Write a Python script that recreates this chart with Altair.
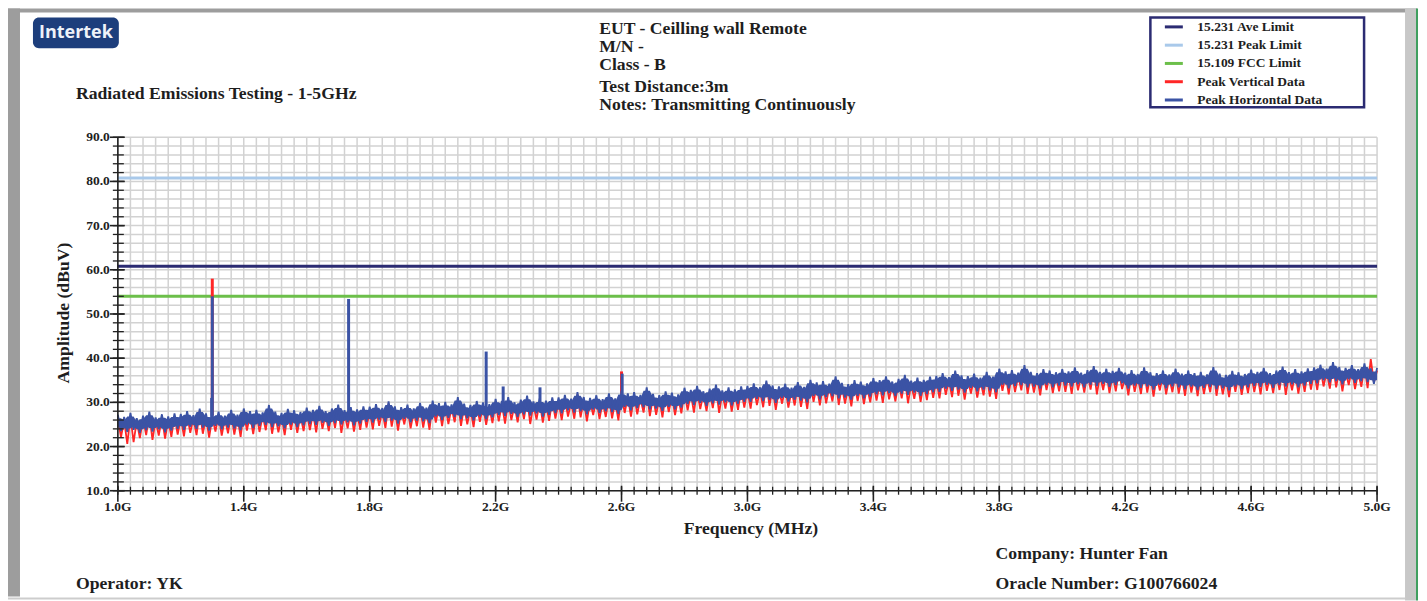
import altair as alt
import pandas as pd

SERIF = "Liberation Serif"
TXT = "#1e1e1e"
AXC = "#222222"
GRID = "#d2d2d2"

# ---- sweep grid (GHz) ----
F_START = 1.0
F_STEP = 0.01
FREQ_GHZ = [round(F_START + F_STEP * i, 2) for i in range(401)]

# ---- Peak Horizontal Data (dBuV), 0.01 GHz steps ----
H_DATA = [
    27.2, 23.5, 26.7, 23.3, 27.6, 23.8, 26.4, 23.1, 27.0, 23.7, 27.9, 23.4, 26.6, 23.9, 27.3, 23.2, 26.8, 23.6, 27.5, 24.0,
    27.4, 23.8, 28.0, 24.5, 27.1, 24.0, 28.6, 24.3, 27.5, 23.6, 27.3, 24.7, 27.9, 23.9, 27.0, 24.3, 28.3, 24.1, 27.2, 23.7,
    28.6, 25.0, 28.0, 24.2, 28.3, 24.7, 27.7, 24.9, 29.4, 24.4, 27.9, 24.6, 27.6, 24.1, 28.5, 25.0, 28.2, 24.4, 27.8, 24.8,
    28.8, 25.1, 28.3, 24.9, 29.2, 25.4, 28.0, 24.7, 28.6, 25.3, 29.5, 25.0, 28.2, 25.5, 28.9, 24.8, 28.4, 25.2, 29.1, 25.6,
    29.0, 25.4, 29.6, 26.1, 28.7, 25.6, 30.2, 25.9, 29.1, 25.2, 28.9, 26.3, 29.5, 25.5, 28.6, 25.9, 29.9, 25.7, 28.8, 25.3,
    30.4, 26.8, 29.8, 26.0, 30.1, 26.5, 29.5, 26.7, 31.2, 26.2, 29.7, 26.4, 29.4, 25.9, 30.3, 26.8, 30.0, 26.2, 29.6, 26.6,
    30.8, 27.1, 30.3, 26.9, 31.2, 27.4, 30.0, 26.7, 30.6, 27.3, 31.5, 27.0, 30.2, 27.5, 30.9, 26.8, 30.4, 27.2, 31.1, 27.6,
    31.1, 27.5, 31.7, 28.2, 30.8, 27.7, 32.3, 28.0, 31.2, 27.3, 31.0, 28.4, 31.6, 27.6, 30.7, 28.0, 32.0, 27.8, 30.9, 27.4,
    32.6, 29.0, 32.0, 28.2, 32.3, 28.7, 31.7, 28.9, 33.4, 28.4, 31.9, 28.6, 31.6, 28.1, 32.5, 29.0, 32.2, 28.4, 31.8, 28.8,
    33.3, 29.6, 32.8, 29.4, 33.7, 29.9, 32.5, 29.2, 33.1, 29.8, 34.0, 29.5, 32.7, 30.0, 33.4, 29.3, 32.9, 29.7, 33.6, 30.1,
    33.7, 30.1, 34.3, 30.8, 33.4, 30.3, 34.9, 30.6, 33.8, 29.9, 33.6, 31.0, 34.2, 30.2, 33.3, 30.6, 34.6, 30.4, 33.5, 30.0,
    35.1, 31.5, 34.5, 30.7, 34.8, 31.2, 34.2, 31.4, 35.9, 30.9, 34.4, 31.1, 34.1, 30.6, 35.0, 31.5, 34.7, 30.9, 34.3, 31.3,
    35.5, 31.8, 35.0, 31.6, 35.9, 32.1, 34.7, 31.4, 35.3, 32.0, 36.2, 31.7, 34.9, 32.2, 35.6, 31.5, 35.1, 31.9, 35.8, 32.3,
    36.0, 32.4, 36.6, 33.1, 35.7, 32.6, 37.2, 32.9, 36.1, 32.2, 35.9, 33.3, 36.5, 32.5, 35.6, 32.9, 36.9, 32.7, 35.8, 32.3,
    37.6, 34.0, 37.0, 33.2, 37.3, 33.7, 36.7, 33.9, 38.4, 33.4, 36.9, 33.6, 36.6, 33.1, 37.5, 34.0, 37.2, 33.4, 36.8, 33.8,
    37.5, 33.8, 37.0, 33.6, 37.9, 34.1, 36.7, 33.4, 37.3, 34.0, 38.2, 33.7, 36.9, 34.2, 37.6, 33.5, 37.1, 33.9, 37.8, 34.3,
    36.7, 33.1, 37.3, 33.8, 36.4, 33.3, 37.9, 33.6, 36.8, 32.9, 36.6, 34.0, 37.2, 33.2, 36.3, 33.6, 37.6, 33.4, 36.5, 33.0,
    37.2, 33.6, 36.6, 32.8, 36.9, 33.3, 36.3, 33.5, 38.0, 33.0, 36.5, 33.2, 36.2, 32.7, 37.1, 33.6, 36.8, 33.0, 36.4, 33.4,
    37.4, 33.7, 36.9, 33.5, 37.8, 34.0, 36.6, 33.3, 37.2, 33.9, 38.1, 33.6, 36.8, 34.1, 37.5, 33.4, 37.0, 33.8, 37.7, 34.2,
    37.9, 34.3, 38.5, 35.0, 37.6, 34.5, 39.1, 34.8, 38.0, 34.1, 37.8, 35.2, 38.4, 34.4, 37.5, 34.8, 38.8, 34.6, 37.7, 34.2,
    37.8,
]

# ---- Peak Vertical Data (dBuV), 0.01 GHz steps ----
V_DATA = [
    26.3, 22.1, 26.0, 20.6, 26.8, 21.0, 25.7, 21.9, 26.4, 22.6, 27.3, 21.5, 25.9, 22.5, 26.6, 21.8, 26.1, 22.2, 26.9, 22.7,
    26.5, 22.3, 27.3, 23.1, 26.4, 22.6, 28.1, 22.9, 26.8, 22.0, 26.6, 23.4, 27.1, 22.5, 26.3, 23.0, 27.6, 22.7, 26.6, 22.2,
    27.9, 23.6, 27.3, 22.8, 27.6, 23.3, 27.0, 23.7, 28.7, 22.9, 27.2, 23.2, 26.9, 22.6, 27.8, 23.8, 27.5, 23.1, 27.1, 23.5,
    27.9, 23.7, 27.6, 23.2, 28.4, 24.0, 27.3, 23.5, 28.0, 24.2, 28.9, 23.1, 27.5, 24.1, 28.2, 23.4, 27.7, 23.8, 28.5, 24.3,
    28.1, 23.9, 28.9, 24.7, 28.0, 24.2, 29.7, 24.5, 28.4, 23.6, 28.2, 25.0, 28.7, 24.1, 27.9, 24.6, 29.2, 24.3, 28.2, 23.8,
    29.7, 25.4, 29.1, 24.6, 29.4, 25.1, 28.8, 25.5, 30.5, 24.7, 29.0, 25.0, 28.7, 24.4, 29.6, 25.6, 29.3, 24.9, 28.9, 25.3,
    29.9, 25.7, 29.6, 25.2, 30.4, 26.0, 29.3, 25.5, 30.0, 26.2, 30.9, 25.1, 29.5, 26.1, 30.2, 25.4, 29.7, 25.8, 30.5, 26.3,
    30.2, 26.0, 31.0, 26.8, 30.1, 26.3, 31.8, 26.6, 30.5, 25.7, 30.3, 27.1, 30.8, 26.2, 30.0, 26.7, 31.3, 26.4, 30.3, 25.9,
    31.9, 27.6, 31.3, 26.8, 31.6, 27.3, 31.0, 27.7, 32.7, 26.9, 31.2, 27.2, 30.9, 26.6, 31.8, 27.8, 31.5, 27.1, 31.1, 27.5,
    32.4, 28.2, 32.1, 27.7, 32.9, 28.5, 31.8, 28.0, 32.5, 28.7, 33.4, 27.6, 32.0, 28.6, 32.7, 27.9, 32.2, 28.3, 33.0, 28.8,
    32.8, 28.6, 33.6, 29.4, 32.7, 28.9, 34.4, 29.2, 33.1, 28.3, 32.9, 29.7, 33.4, 28.8, 32.6, 29.3, 33.9, 29.0, 32.9, 28.5,
    34.4, 30.1, 33.8, 29.3, 34.1, 29.8, 33.5, 30.2, 35.2, 29.4, 33.7, 29.7, 33.4, 29.1, 34.3, 30.3, 34.0, 29.6, 33.6, 30.0,
    34.6, 30.4, 34.3, 29.9, 35.1, 30.7, 34.0, 30.2, 34.7, 30.9, 35.6, 29.8, 34.2, 30.8, 34.9, 30.1, 34.4, 30.5, 35.2, 31.0,
    35.1, 30.9, 35.9, 31.7, 35.0, 31.2, 36.7, 31.5, 35.4, 30.6, 35.2, 32.0, 35.7, 31.1, 34.9, 31.6, 36.2, 31.3, 35.2, 30.8,
    36.9, 32.6, 36.3, 31.8, 36.6, 32.3, 36.0, 32.7, 37.7, 31.9, 36.2, 32.2, 35.9, 31.6, 36.8, 32.8, 36.5, 32.1, 36.1, 32.5,
    36.6, 32.4, 36.3, 31.9, 37.1, 32.7, 36.0, 32.2, 36.7, 32.9, 37.6, 31.8, 36.2, 32.8, 36.9, 32.1, 36.4, 32.5, 37.2, 33.0,
    35.8, 31.6, 36.6, 32.4, 35.7, 31.9, 37.4, 32.2, 36.1, 31.3, 35.9, 32.7, 36.4, 31.8, 35.6, 32.3, 36.9, 32.0, 35.9, 31.5,
    36.5, 32.2, 35.9, 31.4, 36.2, 31.9, 35.6, 32.3, 37.3, 31.5, 35.8, 31.8, 35.5, 31.2, 36.4, 32.4, 36.1, 31.7, 35.7, 32.1,
    36.5, 32.3, 36.2, 31.8, 37.0, 32.6, 35.9, 32.1, 36.6, 32.8, 37.5, 31.7, 36.1, 32.7, 36.8, 32.0, 36.3, 32.4, 37.1, 32.9,
    37.0, 32.8, 37.8, 33.6, 36.9, 33.1, 38.6, 33.4, 37.3, 32.5, 37.1, 33.9, 37.6, 33.0, 36.8, 33.5, 38.1, 33.2, 39.8, 34.5,
    37.2,
]

# ---- narrow-band spikes ----
V_SPIKE_F = [1.300, 2.600]
V_SPIKE_TOP = [58.0, 37.0]
V_SPIKE_BASE = [27.0, 30.0]
H_SPIKE_F = [1.300, 1.298, 1.733, 2.170, 2.224, 2.341, 2.602]
H_SPIKE_TOP = [54.0, 31.0, 53.4, 41.5, 33.6, 33.4, 36.5]
H_SPIKE_BASE = [27.0, 26.0, 27.5, 28.5, 29.0, 29.0, 30.0]

# ---- limits / series ----
SERIES = ["15.231 Ave Limit", "15.231 Peak Limit", "15.109 FCC Limit",
          "Peak Vertical Data", "Peak Horizontal Data"]
COLORS = ["#2b2b72", "#a9c9ea", "#6cbf4a", "#ff2626", "#3b53a5"]
LEGEND_WIDTHS = [3, 3, 3, 1.3, 1.3]
LIMIT_LEVELS = [60.8, 80.8, 54.0]

# ---- axis ticks & labels ----
X_TICKS = [round(1.0 + 0.04 * i, 2) for i in range(101)]
X_MAJOR = [1.0, 1.4, 1.8, 2.2, 2.6, 3.0, 3.4, 3.8, 4.2, 4.6, 5.0]
X_LABELS = ["1.0G", "1.4G", "1.8G", "2.2G", "2.6G", "3.0G", "3.4G", "3.8G", "4.2G", "4.6G", "5.0G"]
Y_TICKS = list(range(10, 91, 2))
Y_MAJOR = [10, 20, 30, 40, 50, 60, 70, 80, 90]
Y_LABELS = ["10.0", "20.0", "30.0", "40.0", "50.0", "60.0", "70.0", "80.0", "90.0"]

W, H = 1261, 354
ORX, ORY = 118, 137  # page position of plot origin


def px(x):
    return x - ORX


def py(y):
    return y - ORY


xs = alt.Scale(domain=[1.0, 5.0], nice=False, zero=False)
ys = alt.Scale(domain=[10, 90], nice=False, zero=False)


def X(field):
    return alt.X(field, type="quantitative", scale=xs, axis=None)


def Y(field):
    return alt.Y(field, type="quantitative", scale=ys, axis=None)


legend = alt.Legend(
    orient="none", legendX=px(1165), legendY=py(16), title=None,
    symbolType="stroke", symbolSize=324,
    labelFont=SERIF, labelFontSize=13.5, labelFontWeight="bold", labelColor=TXT,
    labelOffset=13, rowPadding=1.3, padding=0,
)
color_enc = alt.Color("series:N", scale=alt.Scale(domain=SERIES, range=COLORS), legend=legend)
width_enc = alt.StrokeWidth("series:N", scale=alt.Scale(domain=SERIES, range=LEGEND_WIDTHS),
                            legend=legend)

ONE = pd.DataFrame({"k": [0]})


def box(x0, x1, y0, y1, **kw):
    return alt.Chart(ONE).mark_rect(**kw).encode(
        x=alt.value(px(x0)), x2=alt.value(px(x1)), y=alt.value(py(y0)), y2=alt.value(py(y1)))


def label(text, x, y, size=17.7, align="left", baseline="alphabetic", font=SERIF,
          color=TXT, angle=0):
    return alt.Chart(ONE).mark_text(
        text=text, align=align, baseline=baseline, font=font, fontSize=size,
        fontWeight="bold", color=color, angle=angle).encode(
        x=alt.value(px(x)), y=alt.value(py(y)))


lim_df = pd.DataFrame({"v": LIMIT_LEVELS, "series": SERIES[:3]})
v_df = pd.DataFrame({"f": FREQ_GHZ, "v": V_DATA, "series": SERIES[3]})
h_df = pd.DataFrame({"f": FREQ_GHZ, "v": H_DATA, "series": SERIES[4]})
vs_df = pd.DataFrame({"f": V_SPIKE_F, "v": V_SPIKE_TOP, "v2": V_SPIKE_BASE, "series": SERIES[3]})
hs_df = pd.DataFrame({"f": H_SPIKE_F, "v": H_SPIKE_TOP, "v2": H_SPIKE_BASE, "series": SERIES[4]})
xt_df = pd.DataFrame({"f": X_TICKS})
xm_df = pd.DataFrame({"f": X_MAJOR, "lab": X_LABELS})
yt_df = pd.DataFrame({"v": Y_TICKS})
ym_df = pd.DataFrame({"v": Y_MAJOR, "lab": Y_LABELS})

grid_x = alt.Chart(xt_df).mark_rule(color=GRID, strokeWidth=1.5).encode(x=X("f"))
grid_y = alt.Chart(yt_df).mark_rule(color=GRID, strokeWidth=1.5).encode(y=Y("v"))

limits = alt.Chart(lim_df).mark_rule().encode(y=Y("v"), color=color_enc, strokeWidth=width_enc)

# blue trace: fill the core between neighbouring samples so the noise reads as a solid band,
# leaving the trace's peaks and troughs to stick out as spikes
blue_band = alt.Chart(h_df).transform_window(
    lo="min(v)", hi="max(v)", frame=[-1, 1], sort=[alt.SortField("f")]
).transform_calculate(
    lo2="datum.lo + 0.8", hi2="datum.hi - 0.8"
).mark_area(color=COLORS[4], opacity=1).encode(x=X("f"), y=Y("lo2"), y2="hi2:Q")

red_line = alt.Chart(v_df).mark_line(strokeWidth=1.8, strokeJoin="miter").encode(
    x=X("f"), y=Y("v"), color=color_enc)
red_spk = alt.Chart(vs_df).mark_rule().encode(
    x=X("f"), y=Y("v"), y2="v2:Q", color=color_enc, strokeWidth=width_enc)
blue_line = alt.Chart(h_df).mark_line(strokeWidth=1.8, strokeJoin="miter").encode(
    x=X("f"), y=Y("v"), color=color_enc)
blue_spk = alt.Chart(hs_df).mark_rule().encode(
    x=X("f"), y=Y("v"), y2="v2:Q", color=color_enc, strokeWidth=width_enc)

dom_x = alt.Chart(pd.DataFrame({"v": Y_MAJOR[:1]})).mark_rule(color=AXC, strokeWidth=1.6).encode(y=Y("v"))
dom_y = alt.Chart(pd.DataFrame({"f": X_MAJOR[:1]})).mark_rule(color=AXC, strokeWidth=1.6).encode(x=X("f"))

xt_minor = alt.Chart(xt_df).mark_rule(color=AXC, strokeWidth=1.3).encode(
    x=X("f"), y=alt.value(H - 4), y2=alt.value(H + 4))
xt_major = alt.Chart(xm_df).mark_rule(color=AXC, strokeWidth=1.6).encode(
    x=X("f"), y=alt.value(H - 5), y2=alt.value(H + 11))
yt_minor = alt.Chart(yt_df).mark_rule(color=AXC, strokeWidth=1.3).encode(
    y=Y("v"), x=alt.value(-5), x2=alt.value(6))
yt_major = alt.Chart(ym_df).mark_rule(color=AXC, strokeWidth=1.6).encode(
    y=Y("v"), x=alt.value(-8), x2=alt.value(7))

x_lab = alt.Chart(xm_df).mark_text(
    font=SERIF, fontSize=13.5, fontWeight="bold", color=TXT, align="center",
    baseline="alphabetic").encode(x=X("f"), y=alt.value(H + 20), text="lab:N")
y_lab = alt.Chart(ym_df).mark_text(
    font=SERIF, fontSize=13.5, fontWeight="bold", color=TXT, align="right",
    baseline="middle").encode(y=Y("v"), x=alt.value(-8), text="lab:N")

layers = [
    # page frame
    box(8, 1419, 8, 12, color="#9d9d9d"),
    box(8, 20, 8, 597, color="#9d9d9d"),
    box(8, 1407, 598, 600, color="#cdcdcd"),
    box(1407, 1418, 8, 601, color="#c8c8c8"),
    box(1418, 1420, 8, 601, color="#3f9f5f"),
    # logo
    box(33, 119, 17, 48, color="#1d3e7c", cornerRadius=6),
    label("Intertek", 76, 33, size=18, align="center", baseline="middle",
          font="Open Sans", color="#eef2f9"),
    grid_x, grid_y,
    limits, red_line, red_spk, blue_band, blue_line, blue_spk,
    dom_x, dom_y, xt_minor, xt_major, yt_minor, yt_major, x_lab, y_lab,
    label("Frequency (MHz)", 752, 534, align="center"),
    label("Amplitude (dBuV)", 64, 313, align="center", baseline="middle", angle=270),
    label("Radiated Emissions Testing - 1-5GHz", 76, 99),
    label("EUT - Ceilling wall Remote", 600, 34),
    label("M/N -", 600, 52),
    label("Class - B", 600, 70),
    label("Test Distance:3m", 600, 92),
    label("Notes: Transmitting Continuously", 600, 110),
    label("Company: Hunter Fan", 997, 559),
    label("Oracle Number: G100766024", 997, 589),
    label("Operator: YK", 76, 589),
    box(1152, 1366, 17, 107, fill="white", fillOpacity=0, stroke="#2b2b72", strokeWidth=2.5),
]

chart = alt.layer(*layers).properties(
    width=W, height=H,
    autosize=alt.AutoSizeParams(type="none"),
    padding={"left": 110, "top": 129, "right": 42, "bottom": 110},
).configure(background="white").configure_view(stroke=None)

chart.save("out.html", embed_options={"renderer": "svg", "actions": False})
